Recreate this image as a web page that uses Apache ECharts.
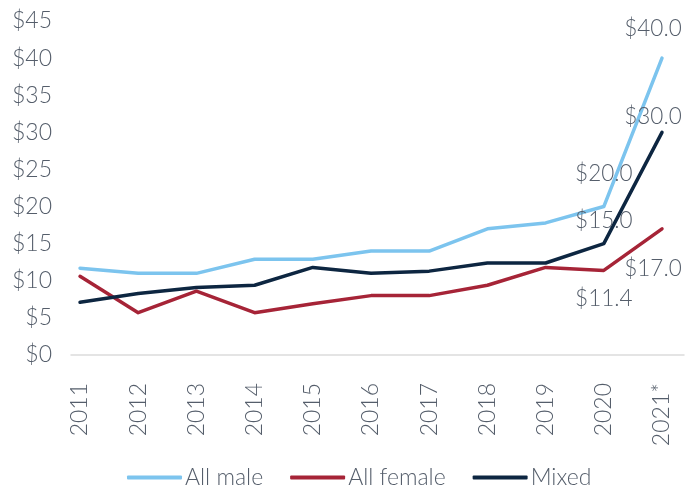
<!DOCTYPE html>
<html>
<head>
<meta charset="utf-8">
<script src="https://cdn.jsdelivr.net/npm/echarts@6/dist/echarts.min.js"></script>
<style>
  html, body { margin: 0; padding: 0; background: #fff; }
  #chart { width: 699px; height: 487px; }
</style>
</head>
<body>
<div id="chart"></div>
<script>
// Year labels along the x axis
const years = [2011, 2012, 2013, 2014, 2015, 2016, 2017, 2018, 2019, 2020, 2021];
const yearLabels = ['2011', '2012', '2013', '2014', '2015', '2016', '2017', '2018', '2019', '2020', '2021*'];

// Values in dollars per series
const allMale   = [11.7, 11.0, 11.0, 12.9, 12.9, 14.0, 14.0, 17.0, 17.8, 20.0, 40.0];
const allFemale = [10.6, 5.7, 8.6, 5.7, 6.9, 8.0, 8.0, 9.4, 11.8, 11.4, 17.0];
const mixed     = [7.1, 8.3, 9.1, 9.4, 11.8, 11.0, 11.3, 12.4, 12.4, 15.0, 30.0];

// Indices of points whose value is printed
const labelledIdx = [9, 10];

const textColor = '#555e6b';
const font = 'Lato, "Noto Sans", sans-serif';

function points(values, labelStyles) {
  return values.map((v, i) => {
    const item = { value: [years[i], v] };
    const k = labelledIdx.indexOf(i);
    if (k >= 0) {
      item.label = Object.assign({ show: true }, labelStyles[k]);
    }
    return item;
  });
}

function lineSeries(name, color, values, labelStyles) {
  return {
    name: name,
    type: 'line',
    data: points(values, labelStyles),
    showSymbol: true,
    symbol: 'circle',
    symbolSize: 1,
    itemStyle: { color: color },
    lineStyle: { color: color, width: 3.5, cap: 'round', join: 'round' },
    label: {
      show: false,
      color: textColor,
      fontFamily: font,
      fontSize: 22.5,
      fontWeight: 300,
      formatter: p => '$' + p.value[1].toFixed(1)
    },
    emphasis: { disabled: true },
    z: 2
  };
}

const chart = echarts.init(document.getElementById('chart'), null, { renderer: 'canvas' });

chart.setOption({
  animation: false,
  backgroundColor: '#fff',
  grid: { left: 71, right: 15, top: 21, bottom: 132, containLabel: false },
  legend: {
    left: 122,
    top: 461,
    itemWidth: 55,
    itemHeight: 4,
    itemGap: 27,
    icon: 'roundRect',
    textStyle: { color: textColor, fontFamily: font, fontSize: 23, fontWeight: 300, padding: [0, 0, 0, -2] },
    data: ['All male', 'All female', 'Mixed']
  },
  xAxis: {
    type: 'value',
    min: 2010.845,
    max: 2021.378,
    splitLine: { show: false },
    axisTick: { show: false },
    axisLine: { show: true, lineStyle: { color: '#dcdcdc', width: 1.5 } },
    axisLabel: {
      customValues: years,
      rotate: 90,
      margin: 28,
      color: textColor,
      fontFamily: font,
      fontSize: 23,
      fontWeight: 300,
      formatter: v => yearLabels[years.indexOf(Math.round(v))] || ''
    }
  },
  yAxis: {
    type: 'value',
    min: 0,
    max: 45,
    interval: 5,
    splitLine: { show: false },
    axisTick: { show: false },
    axisLine: { show: false },
    axisLabel: {
      margin: 19,
      color: textColor,
      fontFamily: font,
      fontSize: 23,
      fontWeight: 300,
      formatter: v => '$' + v
    }
  },
  series: [
    lineSeries('All male', '#7cc4ee', allMale, [
      { position: 'top', distance: 21 },
      { position: 'top', distance: 17, offset: [-9, 0] }
    ]),
    lineSeries('All female', '#a62437', allFemale, [
      { position: 'bottom', distance: 16 },
      { position: 'bottom', distance: 28, offset: [-9, 0] }
    ]),
    lineSeries('Mixed', '#0d2641', mixed, [
      { position: 'top', distance: 11 },
      { position: 'top', distance: 4, offset: [-9, 0] }
    ])
  ]
});
</script>
</body>
</html>
